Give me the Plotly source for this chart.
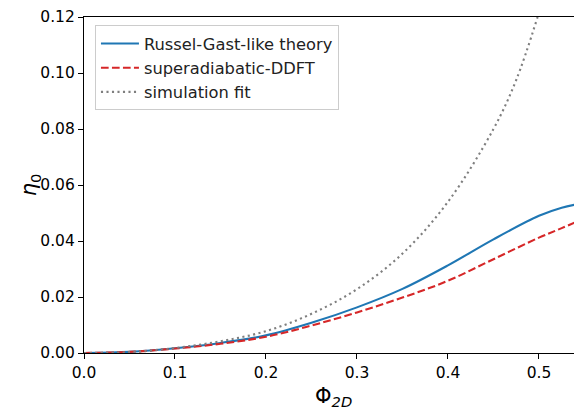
import plotly.graph_objects as go

phi = [0.0, 0.05, 0.10, 0.15, 0.20, 0.25, 0.30, 0.35, 0.40, 0.45, 0.50, 0.525, 0.547]
eta_rg = [0.0, 0.0004, 0.0017, 0.0036, 0.0063, 0.0108, 0.0163, 0.0229, 0.0313, 0.0406, 0.0490, 0.0519, 0.0534]
eta_ddft = [0.0, 0.0004, 0.0016, 0.0033, 0.0058, 0.0098, 0.0145, 0.0198, 0.0258, 0.0335, 0.0412, 0.0446, 0.0477]
phi_sim = [0.0, 0.05, 0.10, 0.15, 0.20, 0.25, 0.30, 0.35, 0.40, 0.45, 0.475, 0.4985]
eta_sim = [0.0, 0.0003, 0.0018, 0.0042, 0.0078, 0.0140, 0.0228, 0.0355, 0.0540, 0.0800, 0.0975, 0.1200]

xticks = [0.0, 0.1, 0.2, 0.3, 0.4, 0.5]
yticks = [0.00, 0.02, 0.04, 0.06, 0.08, 0.10, 0.12]

FONT = "DejaVu Sans"

fig = go.Figure()
fig.add_trace(go.Scatter(x=phi, y=eta_rg, mode="lines", name="Russel-Gast-like theory",
                         line=dict(color="#1f77b4", width=2.1, shape="spline")))
fig.add_trace(go.Scatter(x=phi, y=eta_ddft, mode="lines", name="superadiabatic-DDFT",
                         line=dict(color="#d62728", width=2.1, dash="7.7px,3.3px", shape="spline")))
fig.add_trace(go.Scatter(x=phi_sim, y=eta_sim, mode="lines", name="simulation fit",
                         line=dict(color="#7f7f7f", width=2.1, dash="2.1px,3.4px", shape="spline")))

# the page body adds an 8px offset, so the figure is 8px smaller and margins compensate
fig.update_layout(
    width=574, height=402,
    margin=dict(l=76, r=0, t=8.5, b=57, autoexpand=False),
    paper_bgcolor="white", plot_bgcolor="white",
    font=dict(family=FONT, size=15.5, color="black"),
    showlegend=True,
    legend=dict(x=0.022, y=0.975, xanchor="left", yanchor="top", itemwidth=38,
                bgcolor="rgba(255,255,255,0.8)", bordercolor="#cccccc", borderwidth=1,
                font=dict(family=FONT, size=16.3, color="#222222")),
    annotations=[
        dict(text="Φ<sub><i>2D</i></sub>", xref="paper", yref="paper", x=0.502, y=-0.131,
             xanchor="center", yanchor="middle", showarrow=False,
             font=dict(family=FONT, size=21, color="black")),
        dict(text="<i>η</i><sub>0</sub>", xref="paper", yref="paper", x=-0.108, y=0.5,
             xanchor="center", yanchor="middle", textangle=-90, showarrow=False,
             font=dict(family=FONT, size=21, color="black")),
    ],
)
fig.update_xaxes(range=[0, 0.5473], tickvals=xticks, ticktext=[f"{v:.1f}" for v in xticks],
                 automargin=False,
                 showline=True, linecolor="black", linewidth=1.1, mirror=True,
                 ticks="outside", ticklen=5, tickwidth=1.1, tickcolor="black",
                 showgrid=False, zeroline=False,
                 tickfont=dict(family=FONT, size=15.5))
fig.update_yaxes(range=[0, 0.12], tickvals=yticks, ticktext=[f"{v:.2f}" for v in yticks],
                 automargin=False,
                 showline=True, linecolor="black", linewidth=1.1,
                 ticks="outside", ticklen=5, tickwidth=1.1, tickcolor="black",
                 showgrid=False, zeroline=False,
                 tickfont=dict(family=FONT, size=15.5))

fig.write_html("out.html")
